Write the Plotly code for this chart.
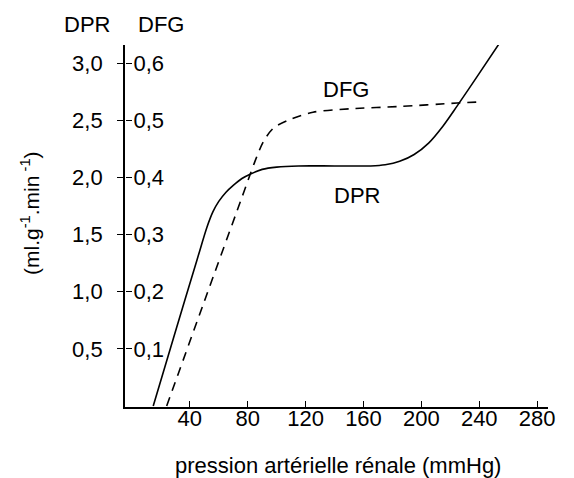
import plotly.graph_objects as go

# DPR (débit plasmatique rénal), ml.g-1.min-1
dpr_pressure = [14.7, 30.0, 45.0, 52.0, 56.0, 60.0, 65.0, 70.0, 76.0, 82.0, 90.0, 100.0, 115.0, 140.0, 165.0, 175.0, 185.0, 195.0, 205.0, 215.0, 225.0, 240.0, 254.3]
dpr_values = [0.0, 0.65, 1.28, 1.57, 1.70, 1.79, 1.87, 1.93, 1.99, 2.03, 2.07, 2.09, 2.10, 2.10, 2.10, 2.11, 2.14, 2.20, 2.30, 2.45, 2.63, 2.91, 3.18]

# DFG (débit de filtration glomérulaire), ml.g-1.min-1
dfg_pressure = [24.0, 50.0, 75.0, 82.1, 85.0, 90.7, 97.7, 108.0, 125.1, 150.7, 185.2, 224.6, 240.5]
dfg_values = [0.0, 0.183, 0.358, 0.408, 0.428, 0.462, 0.486, 0.50, 0.514, 0.52, 0.524, 0.53, 0.532]

x_ticks = [40, 80, 120, 160, 200, 240, 280]
dpr_ticks = [0.5, 1.0, 1.5, 2.0, 2.5, 3.0]
dpr_tick_text = ["0,5", "1,0", "1,5", "2,0", "2,5", "3,0"]
dfg_ticks = [0.1, 0.2, 0.3, 0.4, 0.5, 0.6]
dfg_tick_text = ["0,1", "0,2", "0,3", "0,4", "0,5", "0,6"]

FONT = "Liberation Sans, Arial, Helvetica, sans-serif"
FS = 22

y_range = [-0.009, 3.158]

fig = go.Figure()
fig.add_trace(go.Scatter(
    x=dpr_pressure, y=dpr_values, mode="lines",
    line=dict(color="black", width=1.6, shape="spline", smoothing=0.9),
    cliponaxis=False, showlegend=False, yaxis="y",
))
fig.add_trace(go.Scatter(
    x=dfg_pressure, y=dfg_values, mode="lines",
    line=dict(color="black", width=1.6, dash="9px,7px", shape="spline", smoothing=0.8),
    cliponaxis=False, showlegend=False, yaxis="y2",
))

# the page body has an 8px margin: the figure is drawn 8px smaller, shifted by 8px
OFF = 8
W, H = 574 - OFF, 478 - OFF
l, r, t, b = 125 - OFF, 26, 45 - OFF, 71
pw, ph = W - l - r, H - t - b

fig.update_layout(
    width=W, height=H,
    margin=dict(l=l, r=r, t=t, b=b, autoexpand=False),
    paper_bgcolor="white", plot_bgcolor="white",
    font=dict(family=FONT, size=FS, color="black"),
    xaxis=dict(
        range=[-4.8, 287.5], tickvals=x_ticks, ticktext=[str(v) for v in x_ticks],
        ticks="inside", ticklen=6, tickwidth=1.3, tickcolor="black",
        ticklabelstandoff=-9,
        showline=True, linecolor="black", linewidth=1.8,
        showgrid=False, zeroline=False,
        tickfont=dict(family=FONT, size=FS, color="black"),
    ),
    yaxis=dict(
        range=y_range, tickvals=dpr_ticks, ticktext=dpr_tick_text,
        ticks="outside", ticklen=6, tickwidth=1.3, tickcolor="black",
        ticklabelstandoff=10,
        showline=True, linecolor="black", linewidth=1.8,
        showgrid=False, zeroline=False,
        tickfont=dict(family=FONT, size=FS, color="black"),
    ),
    yaxis2=dict(
        range=[y_range[0] / 5, y_range[1] / 5], tickvals=dfg_ticks, ticktext=dfg_tick_text,
        overlaying="y", anchor="free", position=0, side="right",
        ticks="outside", ticklen=6, tickwidth=1.3, tickcolor="black",
        ticklabelstandoff=-3,
        showline=False, showgrid=False, zeroline=False,
        tickfont=dict(family=FONT, size=FS, color="black"),
    ),
    annotations=[
        dict(text="DPR", x=87, y=25, xref="paper", yref="paper", showarrow=False),
        dict(text="DFG", x=161, y=25, xref="paper", yref="paper", showarrow=False),
        dict(text="DFG", x=147.9, y=2.77, xref="x", yref="y", showarrow=False),
        dict(text="DPR", x=155.5, y=1.84, xref="x", yref="y", showarrow=False),
        dict(text="(ml.g<sup>-1</sup>.min<sup> -1</sup>)", x=30, y=213, textangle=-90,
             xref="paper", yref="paper", showarrow=False, font=dict(size=21)),
        dict(text="pression artérielle rénale (mmHg)", x=337.5, y=465,
             xref="paper", yref="paper", showarrow=False),
    ],
)

# convert pixel-placed annotations (reference-window pixels) into paper coordinates
for a in fig.layout.annotations:
    if a.xref == "paper":
        a.x = (a.x - OFF - l) / pw
        a.y = (H - b - (a.y - OFF)) / ph
        a.xanchor = "center"
        a.yanchor = "middle"

fig.write_html("out.html")
